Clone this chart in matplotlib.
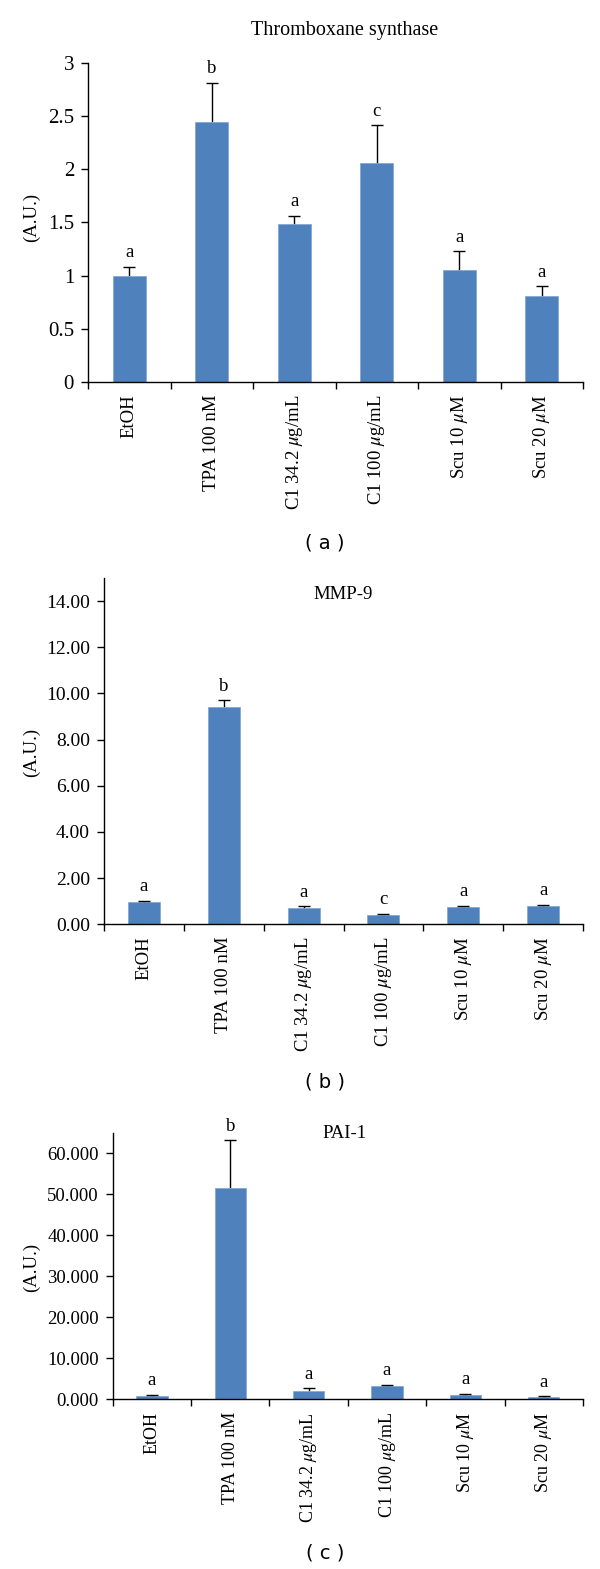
import matplotlib
matplotlib.use("Agg")
import matplotlib.pyplot as plt
import numpy as np

plt.rcParams['font.family'] = ['Liberation Serif', 'DejaVu Serif']
plt.rcParams['mathtext.fontset'] = 'stix'

categories = ["EtOH", "TPA 100 nM", "C1 34.2 $\\mu$g/mL", "C1 100 $\\mu$g/mL",
              "Scu 10 $\\mu$M", "Scu 20 $\\mu$M"]

txs_values = [1.00, 2.44, 1.48, 2.06, 1.05, 0.81]
txs_errors = [0.08, 0.37, 0.08, 0.35, 0.18, 0.09]
txs_letters = ["a", "b", "a", "c", "a", "a"]

mmp_values = [0.97, 9.41, 0.72, 0.40, 0.75, 0.81]
mmp_errors = [0.05, 0.29, 0.06, 0.05, 0.06, 0.04]
mmp_letters = ["a", "b", "a", "c", "a", "a"]

pai_values = [0.89, 51.6, 2.03, 3.25, 1.06, 0.57]
pai_errors = [0.17, 11.6, 0.65, 0.32, 0.32, 0.16]
pai_letters = ["a", "b", "a", "a", "a", "a"]

W, H = 600, 1569
fig = plt.figure(figsize=(W / 100, H / 100), dpi=100)

BAR = "#4F81BD"


def px_axes(left, right, top, bottom):
    return [left / W, 1 - bottom / H, (right - left) / W, (bottom - top) / H]


def panel(rect, values, errors, letters, ylim, yticks, fmt, title, title_xy, title_fs,
          tick_fs, xlab_fs, panel_label, label_y, ylabel_y):
    ax = fig.add_axes(px_axes(*rect))
    x = np.arange(len(values))
    v = np.asarray(values, dtype=float)
    e = np.asarray(errors, dtype=float)
    ax.bar(x, v, width=0.4, color=BAR, edgecolor="#7fa3d1", linewidth=0.5, zorder=2)
    # upper-only error bars: stem from bar top to top of error, plus a cap
    ax.errorbar(x, v + e, yerr=[e, np.zeros(len(v))], fmt="none",
                ecolor="black", elinewidth=1.0, capsize=0, zorder=1)
    ax.plot(x, v + e, linestyle="none", marker="_", markersize=9,
            markeredgewidth=1.0, color="black", zorder=3)
    for xi, top, l in zip(x, v + e, letters):
        ax.annotate(l, (xi, top), xytext=(0, 4), textcoords="offset points",
                    ha="center", va="bottom", fontsize=13.5)
    ax.set_xlim(-0.5, len(values) - 0.5)
    ax.set_ylim(*ylim)
    ax.set_yticks(yticks)
    ax.set_yticklabels([fmt.format(t) for t in yticks], fontsize=tick_fs)
    ax.set_xticks(x)
    ax.set_xticklabels(categories, rotation=90, va="top", ha="center", fontsize=xlab_fs)
    ax.set_xticks(np.arange(-0.5, len(values)), minor=True)
    ax.tick_params(axis="x", which="major", length=0, pad=9)
    ax.tick_params(axis="x", which="minor", length=5, width=1, direction="out")
    ax.tick_params(axis="y", length=5, width=1, direction="out", pad=5)
    for s in ("top", "right"):
        ax.spines[s].set_visible(False)
    for s in ("left", "bottom"):
        ax.spines[s].set_linewidth(1.0)
    fig.text(31 / W, 1 - ylabel_y / H, "(A.U.)", rotation=90, ha="center", va="center", fontsize=13.5)
    fig.text(title_xy[0] / W, 1 - title_xy[1] / H, title, ha="center", va="center", fontsize=title_fs)
    fig.text(325 / W, 1 - label_y / H, "( " + panel_label + " )", ha="center", va="center",
             fontsize=14, family=["DejaVu Sans"])
    return ax


panel((88, 583, 62.7, 382), txs_values, txs_errors, txs_letters, (0, 3),
      [0, 0.5, 1, 1.5, 2, 2.5, 3], "{:g}", "Thromboxane synthase", (345, 31), 14.5,
      15, 13.5, "a", 543, 217)
panel((104, 583, 578, 924.3), mmp_values, mmp_errors, mmp_letters, (0, 15),
      [0, 2, 4, 6, 8, 10, 12, 14], "{:.2f}", "MMP-9", (343, 595), 13.5,
      14, 13.5, "b", 1082, 752)
panel((112.7, 583, 1132.7, 1399.3), pai_values, pai_errors, pai_letters, (0, 65),
      [0, 10, 20, 30, 40, 50, 60], "{:.3f}", "PAI-1", (345, 1133), 13.5,
      13.5, 13, "c", 1553, 1267)

fig.savefig("out.png", dpi=100)
